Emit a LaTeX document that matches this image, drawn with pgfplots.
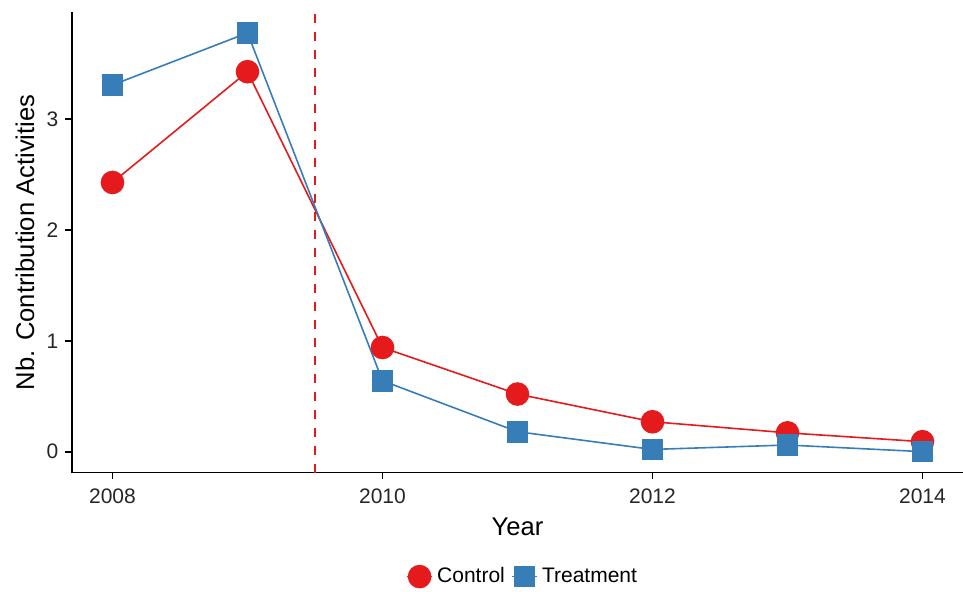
\documentclass[border=0pt]{standalone}
\usepackage{pgfplots}
\pgfplotsset{compat=1.18}
\usepackage{fontspec}
\setmainfont{Liberation Sans}
\definecolor{cred}{HTML}{E41A1C}
\definecolor{cblue}{HTML}{377EB8}
\begin{document}
\begin{tikzpicture}
\path[use as bounding box] (-36pt,-59.7pt) rectangle (445.5pt,236.3pt);
\begin{axis}[
    at={(0pt,0pt)}, anchor=south west,
    scale only axis,
    width=445.5pt, height=230.3pt,
    xmin=2007.70, xmax=2014.30,
    ymin=-0.189, ymax=3.969,
    axis lines*=left,
    axis line style={line width=0.85pt},
    xtick={2008,2010,2012,2014},
    ytick={0,1,2,3},
    tick align=outside,
    major tick length=3.3pt,
    tick style={black, line width=0.85pt},
    /pgf/number format/1000 sep={},
    /pgf/number format/assume math mode=true,
    tick label style={font=\fontsize{10.5}{12}\selectfont, color=black!85},
    xticklabel style={yshift=-1.5pt},
    xlabel={Year},
    ylabel={Nb. Contribution Activities},
    label style={font=\fontsize{12.8}{14}\selectfont},
    xlabel style={at={([yshift=-27pt]axis description cs:0.5,0)}, anchor=center},
    ylabel style={at={([xshift=-23.5pt]axis description cs:0,0.5)}, anchor=center},
    legend columns=2,
    legend style={draw=none, at={([xshift=3pt,yshift=-52pt]axis description cs:0.5,0)}, anchor=center,
        font=\fontsize{10.5}{12}\selectfont,
        /tikz/every even column/.append style={column sep=1pt}},
    legend image code/.code={
        \draw[#1] (0cm,0cm) -- (0.45cm,0cm);
        \path[#1, only marks] plot coordinates {(0.225cm,0cm)};},
    clip=false,
]
\addplot[cred, dash pattern=on 4.5pt off 4.5pt, line width=0.9pt, forget plot]
    coordinates {(2009.5,-0.189) (2009.5,3.969)};
\addplot[cred, line width=0.8pt, mark=*, mark size=5.5pt, mark options={solid, fill=cred}]
    coordinates {
    (2008,2.43) (2009,3.43) (2010,0.94) (2011,0.52)
    (2012,0.27) (2013,0.17) (2014,0.09)};
\addlegendentry{Control}
\addplot[cblue, line width=0.8pt, mark=square*, mark size=5pt, mark options={solid, fill=cblue}]
    coordinates {
    (2008,3.31) (2009,3.78) (2010,0.64) (2011,0.18)
    (2012,0.02) (2013,0.06) (2014,0.00)};
\addlegendentry{Treatment}
\end{axis}
\end{tikzpicture}
\end{document}
